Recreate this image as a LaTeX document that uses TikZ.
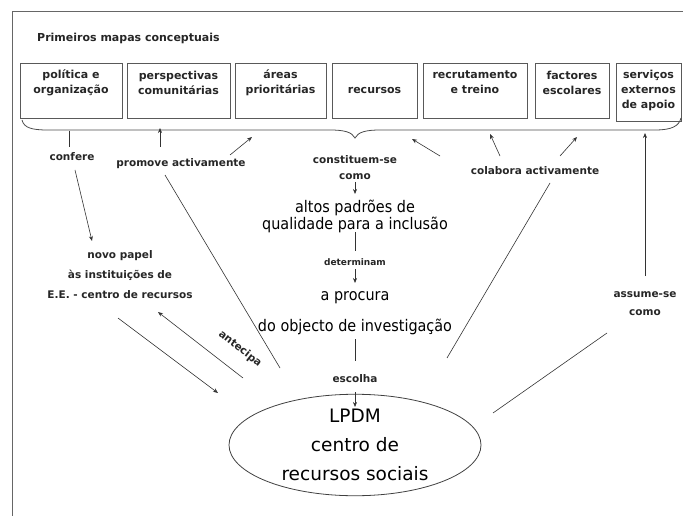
\documentclass[tikz,border=0pt]{standalone}
\usepackage{fontspec}
\setmainfont{DejaVu Sans}
\newfontfamily\bigfont[FakeStretch=0.9]{DejaVu Sans}
\usetikzlibrary{arrows.meta,shapes.geometric}
\begin{document}
\begin{tikzpicture}[x=1pt,y=-1pt,
  lbl/.style={font=\fontsize{10.5}{15}\selectfont\bfseries, inner sep=0pt, align=center, text=black!85},
  boxtxt/.style={font=\fontsize{11}{15}\selectfont\bfseries, inner sep=0pt, align=center, text=black!85},
  boxstyle/.style={draw=black!65, line width=0.8pt, rectangle, inner sep=0pt, anchor=north west},
  big/.style={font=\bigfont\fontsize{16}{17}\selectfont, inner sep=0pt, align=center},
  conn/.style={draw=black!80, line width=0.6pt},
  arr/.style={conn, -{Stealth[length=5pt,width=4pt]}},
  frame/.style={draw=black!60, line width=1pt}]
\useasboundingbox (0,0) rectangle (683,516);
% frame
\coordinate (fl) at (12,516); \coordinate (fc) at (12,12); \coordinate (fr) at (683,12);
\draw[frame] (fl) -- (fc) -- (fr);
% title
\node[boxtxt, anchor=west] (title) at (37,38) {Primeiros mapas conceptuais};
% boxes
\node[boxstyle, minimum width=102pt, minimum height=55pt] (b1) at (20,63) {};
\node[boxstyle, minimum width=103pt, minimum height=55pt] (b2) at (127,63) {};
\node[boxstyle, minimum width=91pt, minimum height=55pt] (b3) at (235,63) {};
\node[boxstyle, minimum width=85pt, minimum height=55pt] (b4) at (332,63) {};
\node[boxstyle, minimum width=104pt, minimum height=55pt] (b5) at (423,63) {};
\node[boxstyle, minimum width=74pt, minimum height=55pt] (b6) at (535,63) {};
\node[boxstyle, minimum width=65pt, minimum height=58pt] (b7) at (616,63) {};
\node[boxtxt] (t1) at (71,82.5) {política e\\organização};
\node[boxtxt] (t2) at (178.5,82.5) {perspectivas\\comunitárias};
\node[boxtxt] (t3) at (280.5,82.5) {áreas\\prioritárias};
\node[boxtxt] (t4) at (374.5,90) {recursos};
\node[boxtxt] (t5) at (475,82.5) {recrutamento\\e treino};
\node[boxtxt] (t6) at (572,82.5) {factores\\escolares};
\node[boxtxt] (t7) at (648.5,90) {serviços\\externos\\de apoio};
% brace
\coordinate (brL) at (22,120); \coordinate (brT) at (355,138); \coordinate (brR) at (681,118);
\draw[conn, line width=0.8pt, draw=black!70] (brL) .. controls (24,128) and (32,130) .. (48,130) -- (330,130)
  .. controls (344,130) and (352,132) .. (brT) .. controls (358,132) and (366,130) .. (380,130) -- (655,130)
  .. controls (672,130) and (679,126) .. (brR);
% labels
\node[lbl] (confere) at (72,157) {confere};
\node[lbl, font=\fontsize{10.5}{20}\selectfont\bfseries] (novo) at (120,275) {novo papel\\às instituições de\\E.E. - centro de recursos};
\node[lbl] (promove) at (181,164) {promove activamente};
\node[lbl, font=\fontsize{10.5}{16}\selectfont\bfseries] (const) at (355,168) {constituem-se\\como};
\node[lbl] (colabora) at (535,171) {colabora activamente};
\node[lbl, font=\fontsize{10.5}{18}\selectfont\bfseries] (assume) at (645,304) {assume-se\\como};
\node[big] (altos) at (355,216) {altos padrões de\\qualidade para a inclusão};
\node[lbl, font=\fontsize{9}{11}\selectfont\bfseries] (determ) at (355,262) {determinam};
\node[big, font=\bigfont\fontsize{16}{31}\selectfont] (procura) at (355,313) {a procura\\do objecto de investigação};
\node[lbl] (escolha) at (355,379) {escolha};
\node[lbl, rotate=-38] (antecipa) at (240,349) {antecipa};
\node[ellipse, draw=black!75, line width=0.8pt, minimum width=252pt, minimum height=92pt, inner sep=0pt,
  align=center, font=\fontsize{18.5}{29}\selectfont] (lpdm) at (355,445) {LPDM\\centro de\\recursos sociais};
% connectors: confere
\coordinate (c1a) at (69,131); \coordinate (c1b) at (69,147);
\draw[conn] (c1a) -- (c1b);
\coordinate (c2a) at (75,170); \coordinate (c2b) at (92,241);
\draw[arr] (c2a) -- (c2b);
% promove
\coordinate (p1a) at (160,147); \coordinate (p1b) at (160,128);
\draw[arr] (p1a) -- (p1b);
\coordinate (p2a) at (230,155); \coordinate (p2b) at (252,137);
\draw[arr] (p2a) -- (p2b);
\coordinate (p3a) at (165,175); \coordinate (p3b) at (280,368);
\draw[conn] (p3a) -- (p3b);
% constituem-se
\coordinate (k1a) at (355,182); \coordinate (k1b) at (355,194);
\draw[arr] (k1a) -- (k1b);
\coordinate (k2a) at (355,232); \coordinate (k2b) at (355,251);
\draw[conn] (k2a) -- (k2b);
\coordinate (k3a) at (355,269); \coordinate (k3b) at (355,283);
\draw[arr] (k3a) -- (k3b);
\coordinate (k4a) at (355,339); \coordinate (k4b) at (355,361);
\draw[conn] (k4a) -- (k4b);
\coordinate (k5a) at (355,392); \coordinate (k5b) at (355,407);
\draw[arr] (k5a) -- (k5b);
% colabora
\coordinate (q1a) at (440,156); \coordinate (q1b) at (412,139);
\draw[arr] (q1a) -- (q1b);
\coordinate (q2a) at (500,156); \coordinate (q2b) at (490,134);
\draw[arr] (q2a) -- (q2b);
\coordinate (q3a) at (560,156); \coordinate (q3b) at (577,137);
\draw[arr] (q3a) -- (q3b);
\coordinate (q4a) at (550,183); \coordinate (q4b) at (447,358);
\draw[conn] (q4a) -- (q4b);
% assume-se
\coordinate (s1a) at (645,276); \coordinate (s1b) at (645,133);
\draw[arr] (s1a) -- (s1b);
\coordinate (s2a) at (607,333); \coordinate (s2b) at (493,413);
\draw[conn] (s2a) -- (s2b);
% left side
\coordinate (l1a) at (118,318); \coordinate (l1b) at (218,393);
\draw[arr] (l1a) -- (l1b);
\coordinate (l2a) at (243,378); \coordinate (l2b) at (158,312);
\draw[arr] (l2a) -- (l2b);
\end{tikzpicture}
\end{document}
